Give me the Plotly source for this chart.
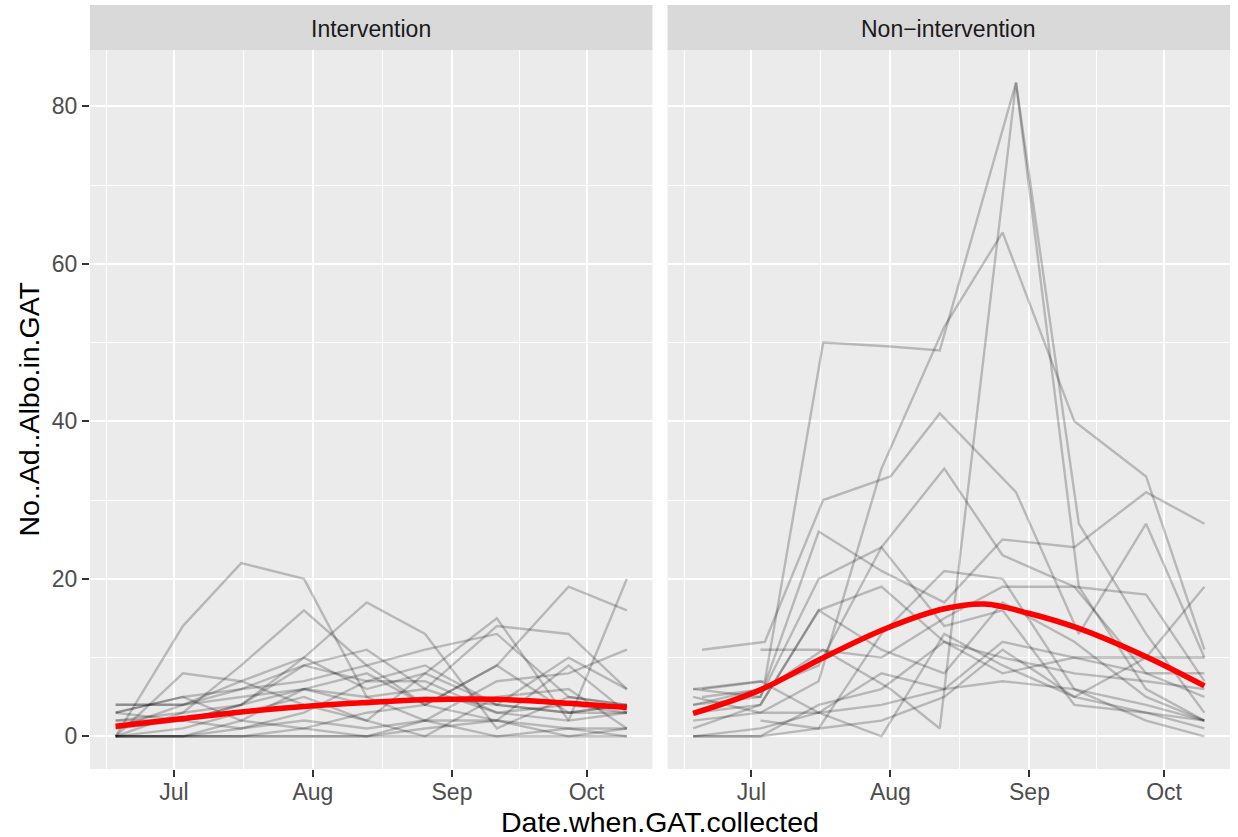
import plotly.graph_objects as go

# ---- data ---------------------------------------------------------------
YEAR = "2019"

# Sampling dates (month-day) for the traps
DATES_INT = ["06-18", "07-03", "07-16", "07-30", "08-13", "08-26", "09-11", "09-27", "10-10"]
DATES_NON_A = ["06-18", "07-03", "07-16", "07-30", "08-13", "08-26", "09-11", "09-27", "10-10"]
DATES_NON_B = ["06-20", "07-04", "07-17", "08-01", "08-12", "08-29", "09-12", "09-27", "10-10"]

# Adult Aedes albopictus counts per trap, intervention area
COUNTS_INT = [
    [0, 14, 22, 20, 5, 6, 3, 4, 3],
    [0, 3, 9, 16, 9, 4, 9, 19, 16],
    [1, 4, 7, 10, 17, 13, 1, 5, 4],
    [0, 8, 7, 4, 2, 8, 15, 2, 20],
    [4, 4, 6, 9, 11, 6, 14, 13, 6],
    [3, 5, 6, 7, 9, 11, 13, 5, 4],
    [2, 3, 4, 9, 7, 9, 4, 10, 6],
    [0, 0, 2, 6, 5, 2, 7, 8, 11],
    [0, 0, 0, 1, 3, 4, 9, 3, 4],
    [4, 4, 5, 6, 8, 4, 2, 9, 3],
    [0, 0, 0, 0, 0, 1, 2, 0, 1],
    [3, 5, 2, 1, 0, 2, 0, 1, 1],
    [1, 2, 1, 3, 7, 7, 3, 2, 3],
    [0, 1, 3, 5, 2, 0, 5, 6, 1],
    [2, 2, 4, 10, 6, 8, 4, 3, 4],
    [0, 0, 0, 0, 0, 0, 0, 0, 0],
    [0, 0, 1, 2, 1, 2, 2, 1, 0],
    [3, 2, 4, 6, 4, 5, 4, 3, 3],
]

# Non-intervention area: counts and which date schedule each trap used
COUNTS_NON = [
    [6, 7, 50, 49.5, 49, 83, 19, 6, 2],
    [5, 6, 11, 6, 1, 83, 27, 13, 3],
    [11, 12, 30, 33, 41, 31, 13, 27, 10],
    [2, 3, 7, 34, 52, 64, 40, 33, 11],
    [4, 5, 20, 24, 34, 23, 19, 8, 5],
    [6, 5, 26, 21, 17, 25, 24, 31, 27],
    [None, 11, 11, 10, 15, 19, 19, 18, 7],
    [0, 0, 1, 13, 21, 20, 6, 4, 2],
    [3, 4, 16, 19, 12, 8, 10, 10, 10],
    [0, 1, 3, 0, 13, 9, 5, 10, 19],
    [6, 7, 3, 8, 6, 12, 10, 8, 8],
    [None, 2, 1, 2, 5, 11, 5, 3, 2],
    [4, 6, 9, 24, 14, 16, 4, 3, 1],
    [1, 4, 16, 11, 8, 17, 12, 5, 2],
    [5, 3, 3, 4, 6, 7, 6, 2, 0],
    [0, 0, 4, 6, 12, 10, 8, 7, 6],
]
SCHEDULE_NON = ["B", "B", "B", "A", "A", "A", "A", "A", "A", "A", "A", "A", "A", "A", "A", "A"]

# Smoothed trend (loess) per area
SMOOTH_INT_DATES = ["06-18", "07-03", "07-16", "07-30", "08-13", "08-26", "09-11", "09-27", "10-10"]
SMOOTH_INT_VALUES = [1.27, 2.25, 3.1, 3.8, 4.3, 4.65, 4.7, 4.2, 3.65]
SMOOTH_NON_DATES = ["06-18", "07-03", "07-16", "07-31", "08-13", "08-22", "09-01", "09-12", "09-27", "10-10"]
SMOOTH_NON_VALUES = [2.9, 5.9, 9.7, 13.7, 16.2, 16.8, 15.6, 13.7, 10.1, 6.4]

PANELS = ["Intervention", "Non\u2212intervention"]
MONTH_TICKS = ["07-01", "08-01", "09-01", "10-01"]
MONTH_LABELS = ["Jul", "Aug", "Sep", "Oct"]
Y_TICKS = [0, 20, 40, 60, 80]

# ---- styling -------------------------------------------------------------
W, H = 1238, 837
M_L, M_R, M_T, M_B = 90, 8, 5, 68
PANEL_GAP = 15
STRIP_H = 45
PLOT_W = W - M_L - M_R
PLOT_H = H - M_T - M_B
panel_w = (PLOT_W - PANEL_GAP) / 2
dom1 = [0, panel_w / PLOT_W]
dom2 = [(panel_w + PANEL_GAP) / PLOT_W, 1]
ytop = (PLOT_H - STRIP_H) / PLOT_H

FONT = "Liberation Sans, Arial, sans-serif"
TRAP_COLOR = "rgba(0,0,0,0.22)"


def d(md):
    return f"{YEAR}-{md}"


fig = go.Figure()

for counts in COUNTS_INT:
    fig.add_trace(go.Scatter(
        x=[d(m) for m in DATES_INT], y=counts, mode="lines",
        line=dict(color=TRAP_COLOR, width=2.4), xaxis="x", yaxis="y",
        showlegend=False, hoverinfo="skip", connectgaps=False))

for counts, sched in zip(COUNTS_NON, SCHEDULE_NON):
    dates = DATES_NON_A if sched == "A" else DATES_NON_B
    fig.add_trace(go.Scatter(
        x=[d(m) for m in dates], y=counts, mode="lines",
        line=dict(color=TRAP_COLOR, width=2.4), xaxis="x2", yaxis="y2",
        showlegend=False, hoverinfo="skip", connectgaps=False))

fig.add_trace(go.Scatter(
    x=[d(m) for m in SMOOTH_INT_DATES], y=SMOOTH_INT_VALUES, mode="lines",
    line=dict(color="#FF0000", width=5.5, shape="spline", smoothing=1.0),
    xaxis="x", yaxis="y", showlegend=False))
fig.add_trace(go.Scatter(
    x=[d(m) for m in SMOOTH_NON_DATES], y=SMOOTH_NON_VALUES, mode="lines",
    line=dict(color="#FF0000", width=5.5, shape="spline", smoothing=1.0),
    xaxis="x2", yaxis="y2", showlegend=False))

x_range = [f"{YEAR}-06-12 07:00", f"{YEAR}-10-15 17:00"]
x_minor = [f"{YEAR}-06-16", f"{YEAR}-07-16 12:00", f"{YEAR}-08-16 12:00", f"{YEAR}-09-16"]

xaxis_common = dict(
    type="date", range=x_range, tickmode="array",
    tickvals=[d(m) for m in MONTH_TICKS], ticktext=MONTH_LABELS,
    showgrid=True, gridcolor="white", gridwidth=2.2,
    minor=dict(tickmode="array", tickvals=x_minor, showgrid=True,
               gridcolor="white", gridwidth=1.1, ticks=""),
    ticks="outside", ticklen=7, tickwidth=2, tickcolor="#333333",
    ticklabelstandoff=-5,
    tickfont=dict(family=FONT, size=23, color="#4D4D4D"),
    showline=False, zeroline=False, fixedrange=True,
)
yaxis_common = dict(
    range=[-4.15, 87.15], domain=[0, ytop], tickmode="array", tickvals=Y_TICKS,
    showgrid=True, gridcolor="white", gridwidth=2.2,
    minor=dict(tickmode="array", tickvals=[10, 30, 50, 70], showgrid=True,
               gridcolor="white", gridwidth=1.1, ticks=""),
    zeroline=False, showline=False, fixedrange=True,
)

fig.update_layout(
    width=W, height=H,
    margin=dict(l=M_L, r=M_R, t=M_T, b=M_B),
    paper_bgcolor="white", plot_bgcolor="#EBEBEB",
    font=dict(family=FONT, color="#4D4D4D"),
    xaxis=dict(xaxis_common, domain=dom1, anchor="y"),
    xaxis2=dict(xaxis_common, domain=dom2, anchor="y2"),
    yaxis=dict(yaxis_common, anchor="x", ticks="outside", ticklen=7, tickwidth=2,
               tickcolor="#333333",
               tickfont=dict(family=FONT, size=23, color="#4D4D4D")),
    yaxis2=dict(yaxis_common, anchor="x2", showticklabels=False, ticks=""),
)

# Facet strips
for dom, label in zip([dom1, dom2], PANELS):
    fig.add_shape(type="rect", xref="paper", yref="paper",
                  x0=dom[0], x1=dom[1], y0=ytop, y1=1.0,
                  fillcolor="#D9D9D9", line=dict(width=0), layer="below")
    fig.add_annotation(text=label, xref="paper", yref="paper",
                       x=(dom[0] + dom[1]) / 2, y=(ytop + 1.0) / 2 - 0.002,
                       showarrow=False, xanchor="center", yanchor="middle",
                       font=dict(family=FONT, size=23, color="#1A1A1A"))

# Axis titles
fig.add_annotation(text="Date.when.GAT.collected", xref="paper", yref="paper",
                   x=0.5, y=-53 / PLOT_H, xanchor="center", yanchor="middle",
                   showarrow=False, font=dict(family=FONT, size=28.5, color="black"))
fig.add_annotation(text="No..Ad..Albo.in.GAT", xref="paper", yref="paper",
                   x=-(M_L - 10) / PLOT_W, y=ytop / 2, xanchor="left", yanchor="middle",
                   textangle=-90, showarrow=False,
                   font=dict(family=FONT, size=28.5, color="black"))

fig.write_html("out.html")
